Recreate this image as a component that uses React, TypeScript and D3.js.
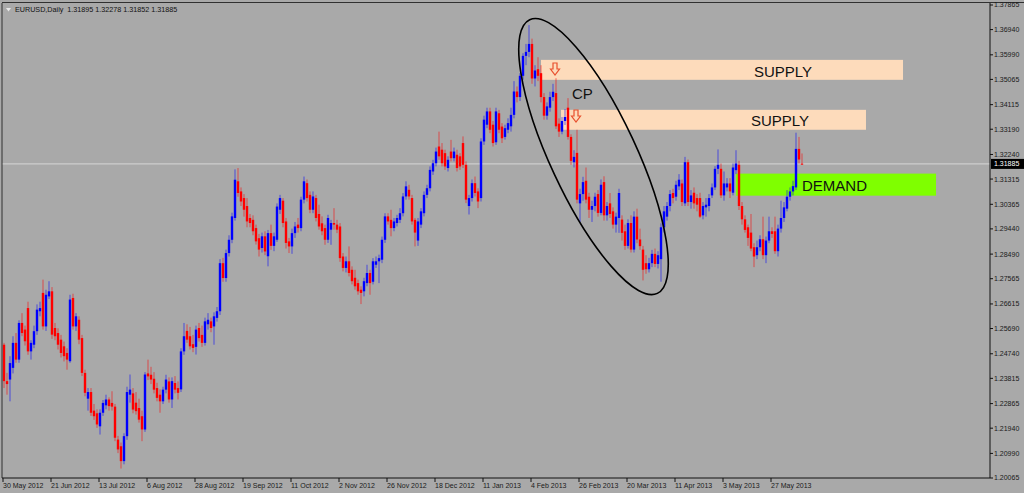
import React from 'react';
import * as d3 from 'd3';

// EURUSD daily candles, values in pips (price * 10000), 30 May 2012 .. 10 Jun 2013
const opens = [
12508,12371,12377,12421,12515,12452,12590,12565,12646,12483,
12508,12559,12634,12703,12577,12690,12709,12571,12552,12527,
12502,12477,12446,12684,12577,12602,12533,12402,12305,12330,
12260,12250,12201,12252,12280,12302,12289,12275,12151,12126,
12070,12164,12320,12325,12290,12270,12239,12189,12400,12395,
12380,12345,12320,12295,12339,12370,12302,12364,12345,12340,
12483,12560,12540,12510,12500,12571,12545,12515,12585,12596,
12577,12609,12634,12815,12759,12853,12903,12985,13123,13085,
13060,13030,12985,12978,12947,12909,12872,12916,12841,
12928,
12880,12903,13016,13050,12972,12897,12878,12928,12960,12947,
13054,13116,13072,13016,13060,13000,12965,12947,12903,12941,
12966,12960,12953,12840,12797,12822,12790,12760,12740,12715,
12709,12740,12778,12745,12809,12822,12828,12903,12991,12978,
12947,12966,12978,13003,13066,13091,13060,12978,12900,12960,
13003,13072,13097,13160,13191,13254,13242,13229,13173,13235,
13210,13223,13217,13267,13185,13030,13060,13116,13085,13060,
13273,13336,13386,13336,13270,13379,13329,13290,13317,13330,
13373,13461,13440,13520,13595,13610,13640,13510,13545,13530,
13440,13370,13400,13440,13455,13340,13310,13350,13400,13290,
13195,13230,13040,13075,13125,13065,13016,13030,13075,13004,
13120,12995,13040,13010,12960,12985,12979,12935,12880,12966,
12866,12990,12904,12866,12815,12792,12815,12850,12812,12830,
12950,12990,13030,13079,13065,13104,13115,13040,13195,13045,
13080,13060,13060,12995,13025,13030,13070,13100,13170,13170,
13070,13100,13115,13080,13165,13185,13030,12980,12950,12930,
12875,12845,12875,12905,12845,12900,12935,12935,12860,12945,
12985,13020,13065,13085,13100,13245,13189.5
];

const highs = [
12515,12402,12465,12540,12552,12600,12627,12580,12670,12525,
12580,12660,12670,12753,12715,12747,12725,12590,12570,12545,
12520,12495,12696,12700,12627,12615,12545,12414,12345,12345,
12285,12265,12265,12300,12320,12310,12333,12285,12165,12140,
12175,12350,12396,12345,12330,12305,12260,12405,12452,12425,
12405,12365,12340,12350,12395,12385,12385,12390,12370,12495,
12590,12585,12575,12545,12580,12590,12580,12610,12627,12610,
12630,12650,12830,12835,12866,12920,13005,13168,13173,13100,
13075,13060,13000,12995,12960,12925,12930,12935,12940,
12960,
12930,13040,13072,13060,12985,12910,12945,12970,12985,13065,
13141,13130,13085,13085,13072,13035,12991,12960,12997,12978,
13022,12978,12966,12853,12840,12878,12803,12790,12753,12728,
12760,12809,12790,12834,12840,12847,12915,13003,13003,13016,
12985,12997,13022,13079,13123,13110,13072,12985,12985,13022,
13085,13110,13179,13204,13250,13310,13267,13242,13217,13279,
13250,13242,13229,13292,13198,13072,13130,13141,13097,13285,
13370,13400,13400,13350,13400,13392,13342,13336,13360,13400,
13500,13480,13530,13605,13640,13711,13660,13560,13590,13560,
13455,13420,13460,13490,13511,13360,13365,13395,13436,13300,
13240,13317,13095,13140,13175,13080,13050,13080,13090,13130,
13142,13045,13079,13025,13005,13095,12995,12960,12980,12995,
13010,13020,12945,12880,12845,12835,12865,12870,12860,12965,
13030,13045,13090,13095,13125,13150,13130,13215,13205,13090,
13100,13075,13080,13045,13060,13075,13115,13180,13243,13190,
13160,13135,13135,13190,13240,13200,13045,12995,12960,13000,
12890,12900,12920,12990,12915,12990,12950,12990,12960,13050,
13045,13090,13100,13125,13306,13290,13227.8
];

const lows = [
12345,12320,12295,12400,12440,12440,12540,12505,12470,12452,
12495,12545,12615,12565,12560,12680,12530,12525,12490,12460,
12445,12414,12440,12565,12560,12510,12390,12314,12260,12240,
12225,12195,12170,12240,12265,12260,12260,12145,12100,12042,
12058,12150,12290,12250,12245,12215,12145,12180,12375,12360,
12325,12295,12252,12285,12325,12290,12270,12325,12302,12330,
12470,12515,12490,12480,12471,12520,12500,12505,12565,12555,
12508,12595,12620,12745,12745,12840,12890,12975,13065,13030,
12990,12950,12950,12920,12885,12840,12855,12845,12803,
12865,
12860,12895,13000,12950,12870,12853,12850,12910,12930,12935,
13040,13047,13003,13003,12972,12941,12920,12884,12891,12884,
12941,12928,12820,12784,12780,12765,12735,12715,12696,12661,
12690,12728,12696,12735,12797,12740,12815,12891,12960,12916,
12935,12953,12966,12991,13054,13054,12960,12878,12880,12947,
12991,13060,13085,13147,13179,13204,13179,13166,13160,13198,
13198,13160,13166,13173,13041,12998,13047,13066,13022,13047,
13260,13323,13304,13254,13260,13304,13267,13280,13304,13310,
13360,13420,13425,13505,13560,13590,13490,13480,13500,13420,
13355,13355,13385,13425,13320,13290,13300,13335,13280,13185,
13175,13040,12970,13050,13040,12985,12970,13010,12990,12995,
12975,12975,12985,12945,12930,12929,12900,12865,12870,12855,
12855,12890,12865,12750,12775,12780,12800,12800,12795,12745,
12930,12975,13010,13040,13050,13090,13030,13030,13030,13020,
13020,13010,12985,12980,12990,13010,13060,13090,13150,13060,
13050,13085,13060,13070,13150,13015,12960,12930,12880,12860,
12800,12830,12860,12830,12815,12890,12910,12850,12840,12930,
12970,13010,13050,13070,13090,13190,13185.2
];

const closes = [
12371,12360,12439,12515,12452,12590,12552,12521,12483,12515,
12559,12640,12646,12577,12696,12709,12546,12540,12508,12477,
12465,12452,12678,12577,12615,12527,12402,12327,12330,12252,
12239,12208,12252,12289,12302,12277,12275,12158,12114,12070,
12164,12330,12339,12264,12258,12226,12189,12396,12389,12377,
12339,12308,12295,12339,12377,12302,12371,12339,12327,12483,
12540,12527,12502,12496,12565,12533,12515,12596,12602,12571,
12615,12634,12815,12759,12853,12903,12991,13129,13079,13047,
13016,12972,12966,12935,12897,12866,12916,12859,12928,
12880,
12916,13028,13060,12966,12891,12878,12928,12953,12947,13054,
13123,13060,13016,13066,12985,12953,12935,12903,12985,12966,
12960,12941,12834,12797,12822,12778,12747,12728,12709,12703,
12747,12778,12740,12822,12822,12834,12903,12991,12972,12947,
12972,12985,13003,13066,13104,13066,12972,12930,12972,13010,
13072,13097,13166,13191,13235,13217,13191,13179,13204,13210,
13235,13173,13179,13185,13054,13060,13116,13079,13047,13273,
13355,13386,13317,13267,13386,13317,13285,13323,13342,13373,
13461,13440,13520,13595,13610,13640,13510,13540,13520,13440,
13370,13405,13440,13460,13330,13310,13350,13365,13290,13200,
13215,13054,13075,13120,13054,13016,13030,13065,13004,13110,
12995,13030,13000,12960,12990,13079,12929,12880,12966,12866,
12990,12904,12879,12790,12792,12815,12850,12812,12845,12950,
13010,13030,13075,13060,13110,13129,13045,13195,13045,13070,
13040,13035,12990,13030,13035,13060,13100,13170,13185,13070,
13115,13115,13085,13175,13190,13030,12980,12940,12910,12870,
12840,12875,12905,12845,12900,12935,12925,12860,12945,12985,
13025,13065,13085,13105,13245,13205,13188.5
];

const yTickLabels = [
  '1.37865','1.36940','1.35990','1.35065','1.34115','1.33190','1.32240',
  '1.31315','1.30365','1.29440','1.28490','1.27565','1.26615','1.25690',
  '1.24740','1.23815','1.22865','1.21940','1.20990','1.20065'
];
const xTickLabels = [
  '30 May 2012','21 Jun 2012','13 Jul 2012','6 Aug 2012','28 Aug 2012','19 Sep 2012',
  '11 Oct 2012','2 Nov 2012','26 Nov 2012','18 Dec 2012','11 Jan 2013','4 Feb 2013',
  '26 Feb 2013','20 Mar 2013','11 Apr 2013','3 May 2013','27 May 2013'
];
const xTickBars = [0,16,32,48,64,80,96,112,128,144,160,176,192,208,224,240,256];

const titleText = 'EURUSD,Daily  1.31895 1.32278 1.31852 1.31885';
const lastPrice = 1.31885;

// zones: [startBar, endBar, lowPrice, highPrice]
const supplyZones = [
  { b0: 179, b1: 299.67, p0: 1.3505, p1: 1.3580, label: 'SUPPLY', lb: 259.67, lp: 1.35155 },
  { b0: 185.67, b1: 287.33, p0: 1.3317, p1: 1.3392, label: 'SUPPLY', lb: 258.67, lp: 1.33311 },
];
const demandZone = { b0: 244, b1: 310.67, p0: 1.3069, p1: 1.3152, label: 'DEMAND', lb: 266, lp: 1.30865 };
const arrowMarks = [ { b: 183.67, p: 1.35230 }, { b: 190.67, p: 1.33462 } ];
const cpLabel = { b: 189.33, p: 1.34327, text: 'CP' };
const ellipseMark = { b: 196.5, p: 1.32163, rx: 151, ry: 43, angle: 65 };

export default function App() {
  const W = 1024, H = 493;
  const left = 2, top = 3, right = 990, bottom = 478;
  const n = Math.min(opens.length, highs.length, lows.length, closes.length);
  const x = d3.scaleLinear().domain([0, 1]).range([4, 7]);
  const yVals = yTickLabels.map(Number);
  const y = d3.scaleLinear().domain([d3.min(yVals)!, d3.max(yVals)!]).range([478, 5]);
  const bull = '#0000ff', bear = '#ff0000';
  const font = "'Liberation Sans', Arial, sans-serif";

  const candles = d3.range(n).map(i => ({
    i, o: opens[i] / 1e4, h: highs[i] / 1e4, l: lows[i] / 1e4, c: closes[i] / 1e4,
  }));

  const arrowPath = (cx: number, tip: number) => {
    const t = tip - 12;
    return `M${cx - 2},${t} L${cx + 2},${t} L${cx + 2},${t + 6} L${cx + 4.5},${t + 6} L${cx},${tip} L${cx - 4.5},${t + 6} L${cx - 2},${t + 6} Z`;
  };

  const ey = y(lastPrice);

  return (
    <svg width={W} height={H} style={{ position: 'absolute', left: 0, top: 0, display: 'block' }}
      xmlns="http://www.w3.org/2000/svg">
      <rect x={0} y={0} width={W} height={H} fill="#a9a9a9" />
      {/* current price line */}
      <line x1={left} x2={right} y1={ey} y2={ey} stroke="#d6d6d6" strokeWidth={1} />

      {/* zones */}
      {supplyZones.map((z, k) => (
        <rect key={'s' + k} x={x(z.b0)} width={x(z.b1) - x(z.b0)} y={y(z.p1)} height={y(z.p0) - y(z.p1)} fill="#fddbbb" />
      ))}
      <rect x={x(demandZone.b0)} width={x(demandZone.b1) - x(demandZone.b0)} y={y(demandZone.p1)}
        height={y(demandZone.p0) - y(demandZone.p1)} fill="#7fff00" />

      {/* candles */}
      <g>
        {candles.map(d => {
          const cx = x(d.i);
          const up = d.c >= d.o;
          const col = up ? bull : bear;
          const bt = y(Math.max(d.o, d.c));
          const bb = y(Math.min(d.o, d.c));
          return (
            <g key={d.i}>
              <line x1={cx} x2={cx} y1={y(d.h)} y2={y(d.l)} stroke={col} strokeWidth={1} strokeOpacity={0.55} />
              <rect x={cx - 1.2} width={2.4} y={bt} height={Math.max(1, bb - bt)} fill={col} />
            </g>
          );
        })}
      </g>

      {/* zone labels */}
      {supplyZones.map((z, k) => (
        <text key={'st' + k} x={x(z.lb)} y={y(z.lp)} textAnchor="middle" fontFamily={font} fontSize={15} fill="#111">{z.label}</text>
      ))}
      <text x={x(demandZone.lb)} y={y(demandZone.lp)} fontFamily={font} fontSize={15} fill="#111">{demandZone.label}</text>
      <text x={x(cpLabel.b)} y={y(cpLabel.p)} fontFamily={font} fontSize={15} fill="#111">{cpLabel.text}</text>

      {arrowMarks.map((a, k) => (
        <path key={'a' + k} d={arrowPath(x(a.b), y(a.p))} fill="none" stroke="#e8502e" strokeWidth={1.2} />
      ))}

      <ellipse cx={x(ellipseMark.b)} cy={y(ellipseMark.p)} rx={ellipseMark.rx} ry={ellipseMark.ry}
        transform={`rotate(${ellipseMark.angle} ${x(ellipseMark.b)} ${y(ellipseMark.p)})`}
        fill="none" stroke="#000" strokeWidth={1.6} />

      {/* frame */}
      <line x1={left} x2={left} y1={top} y2={bottom} stroke="#303030" />
      <line x1={left} x2={W} y1={top - 0.5} y2={top - 0.5} stroke="#303030" />
      <line x1={right} x2={right} y1={top} y2={bottom} stroke="#111" />
      <line x1={left} x2={right} y1={bottom} y2={bottom} stroke="#111" />

      {/* y axis */}
      {yVals.map((v, k) => (
        <g key={'y' + k}>
          <line x1={right} x2={right + 3} y1={y(v)} y2={y(v)} stroke="#111" />
          <text x={994} y={y(v)} dy="0.35em" fontFamily={font} fontSize={7} fill="#1a1a1a">{yTickLabels[k]}</text>
        </g>
      ))}
      <rect x={right + 1} y={ey - 5} width={W - right - 1} height={10} fill="#000" />
      <text x={994} y={ey} dy="0.35em" fontFamily={font} fontSize={7} fill="#fff">{lastPrice.toFixed(5)}</text>

      {/* x axis */}
      {xTickBars.map((b, k) => (
        <g key={'x' + k}>
          <line x1={x(b) - 1} x2={x(b) - 1} y1={bottom} y2={bottom + 4} stroke="#111" />
          <text x={x(b) - 1} y={487.5} fontFamily={font} fontSize={7} fill="#1a1a1a">{xTickLabels[k]}</text>
        </g>
      ))}

      {/* title */}
      <path d="M6,8 L11,8 L8.5,11.5 Z" fill="#e8e8e8" />
      <text x={15} y={12} fontFamily={font} fontSize={7.2} fill="#111" style={{ whiteSpace: 'pre' }}>{titleText}</text>
    </svg>
  );
}
